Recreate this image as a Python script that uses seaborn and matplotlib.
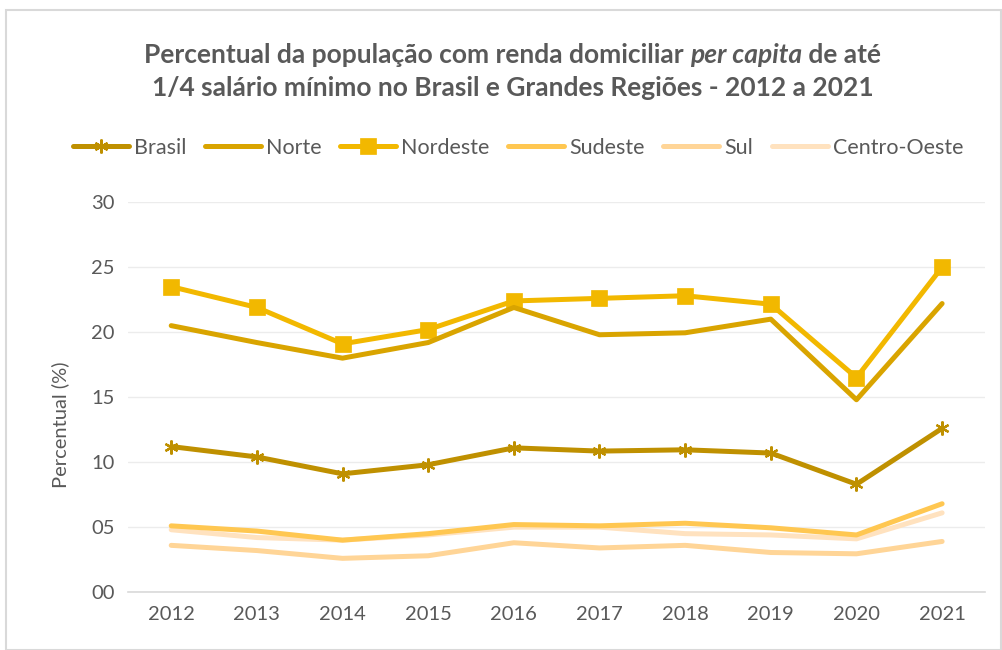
import matplotlib
matplotlib.use("Agg")
import matplotlib.pyplot as plt
import seaborn as sns
import pandas as pd
from matplotlib.patches import Rectangle
from matplotlib.ticker import FuncFormatter

years = [2012, 2013, 2014, 2015, 2016, 2017, 2018, 2019, 2020, 2021]
brasil = [11.2, 10.4, 9.1, 9.8, 11.1, 10.85, 10.95, 10.7, 8.3, 12.6]
norte = [20.5, 19.2, 18.0, 19.2, 21.9, 19.8, 19.95, 21.0, 14.8, 22.2]
nordeste = [23.5, 21.9, 19.1, 20.2, 22.4, 22.6, 22.8, 22.15, 16.5, 25.0]
sudeste = [5.1, 4.7, 4.0, 4.5, 5.2, 5.1, 5.3, 4.95, 4.4, 6.8]
sul = [3.6, 3.2, 2.6, 2.8, 3.8, 3.4, 3.6, 3.05, 2.95, 3.9]
centro_oeste = [4.8, 4.2, 4.0, 4.4, 5.0, 5.0, 4.5, 4.4, 4.1, 6.1]

series_names = ["Brasil", "Norte", "Nordeste", "Sudeste", "Sul", "Centro-Oeste"]
series_vals = [brasil, norte, nordeste, sudeste, sul, centro_oeste]
colors = ["#BF9000", "#D9A400", "#F2B800", "#FFC751", "#FFD597", "#FFE2BF"]
markers = [(6, 2, 0), None, "s", None, None, None]
msizes = [10, 0, 11, 0, 0, 0]

title_parts = [("Percentual da população com renda domiciliar ", "normal"),
               ("per capita", "italic"),
               (" de até", "normal")]
title_line2 = "1/4 salário mínimo no Brasil e Grandes Regiões - 2012 a 2021"

sns.set_theme(style="white")
plt.rcParams["font.family"] = ["Lato", "DejaVu Sans"]

fig = plt.figure(figsize=(10.03, 6.5), dpi=100)
ax = fig.add_axes([0.128, 0.089, 0.854, 0.600])

for i in range(len(series_names)):
    df = pd.DataFrame({"Ano": years, "Valor": series_vals[i]})
    sns.lineplot(data=df, x="Ano", y="Valor", ax=ax, color=colors[i], linewidth=3.6,
                 marker=markers[i] if markers[i] is not None else None,
                 markersize=msizes[i], markeredgecolor=colors[i],
                 markeredgewidth=1.6 if i == 0 else 0.5,
                 label=series_names[i], solid_capstyle="round", zorder=3 + (5 - i) * 0.1)

ax.set_xlim(2011.5, 2021.5)
ax.set_ylim(0, 30)
ax.set_yticks([0, 5, 10, 15, 20, 25, 30])
ax.yaxis.set_major_formatter(FuncFormatter(lambda v, p: f"{int(v):02d}"))
ax.set_xticks(years)
ax.set_xticklabels([str(y) for y in years])
ax.grid(axis="y", color="#ECECEC", linewidth=1.0)
ax.grid(axis="x", visible=False)
for s in ["top", "right", "left"]:
    ax.spines[s].set_visible(False)
ax.spines["bottom"].set_color("#D9D9D9")
ax.spines["bottom"].set_linewidth(1.2)
ax.tick_params(axis="both", colors="#595959", labelsize=14.5, length=0, pad=10)
ax.set_xlabel("")
ax.set_ylabel("Percentual (%)", color="#595959", fontsize=14.5, labelpad=2)
ax.yaxis.set_label_coords(-0.069, 0.43)

leg = ax.legend(loc="center", bbox_to_anchor=(0.455, 1.14), ncol=6, frameon=False,
                fontsize=15.5, handlelength=2.6, columnspacing=0.85, handletextpad=0.25,
                labelcolor="#595959")

# Title line 1 assembled from pieces (bold, with italic "per capita")
fig.canvas.draw()
renderer = fig.canvas.get_renderer()
tsize = 19
texts = []
for txt, style in title_parts:
    t = fig.text(0, 0.915, txt, ha="left", va="center", fontsize=tsize, fontweight="bold",
                 fontstyle=style, color="#595959")
    texts.append(t)
widths = [t.get_window_extent(renderer).width for t in texts]
total = sum(widths)
x0 = 0.511 * fig.bbox.width - total / 2
for t, w in zip(texts, widths):
    t.set_x(x0 / fig.bbox.width)
    x0 += w
fig.text(0.511, 0.865, title_line2, ha="center", va="center", fontsize=tsize,
         fontweight="bold", color="#595959")

fig.patches.append(Rectangle((0.006, 0.0), 0.992, 0.985, transform=fig.transFigure,
                             fill=False, edgecolor="#D9D9D9", linewidth=1.5))

fig.savefig("out.png", dpi=100)
